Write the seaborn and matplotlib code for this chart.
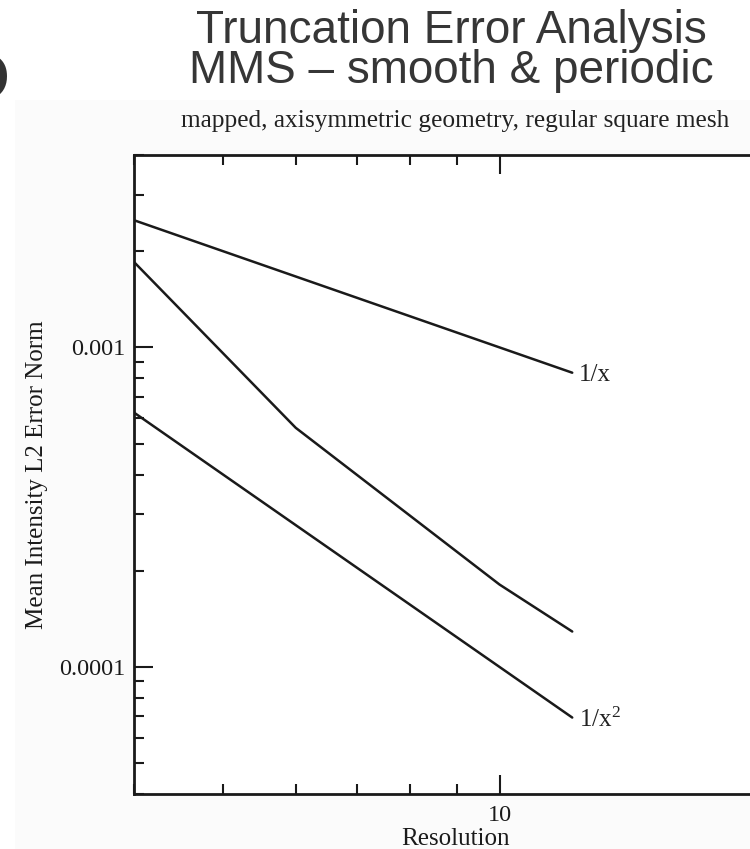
import matplotlib
matplotlib.use("Agg")
import matplotlib.pyplot as plt
import seaborn as sns
from matplotlib.ticker import NullFormatter
from matplotlib.patches import Rectangle

# --- Datos ---
resolution = [4, 6, 10, 12]
error_norm = [1.85e-3, 5.6e-4, 1.81e-4, 1.29e-4]

ref_x = [4, 12]
ref_first = [2.5e-3, 8.33e-4]    # 1/x
ref_second = [6.25e-4, 6.94e-5]  # 1/x^2

x_ticks = [10]
x_tick_labels = ["10"]
y_ticks = [1e-4, 1e-3]
y_tick_labels = ["0.0001", "0.001"]

title_lines = ["Truncation Error Analysis", "MMS \u2013 smooth & periodic"]
subtitle = "mapped, axisymmetric geometry, regular square mesh"
x_label = "Resolution"
y_label = "Mean Intensity L2 Error Norm"
ref_labels = ["1/x", "1/x$^{\\mathregular{2}}$"]

# --- Estilo ---
sns.set_theme(style="ticks")
plt.rcParams['font.family'] = ['Liberation Serif', 'DejaVu Serif']
plt.rcParams['mathtext.fontset'] = 'stix'

W, H = 750, 849
fig = plt.figure(figsize=(W / 100, H / 100), dpi=100)
fig.patch.set_facecolor('white')
# fondo gris muy claro de la diapositiva (detras de todo)
fig.patches.append(Rectangle((15 / W, 0), 1, (H - 100) / H, transform=fig.transFigure,
                             facecolor='#fbfbfb', edgecolor='none', zorder=-10))

# el eje se sale por la derecha (imagen recortada)
ax = fig.add_axes([134 / W, (H - 794) / H, 642 / W, 639 / H])
ax.set_facecolor('white')

sns.lineplot(x=ref_x, y=ref_first, color='k', lw=1.8, ax=ax, legend=False)
sns.lineplot(x=resolution, y=error_norm, color='k', lw=1.8, ax=ax, legend=False)
sns.lineplot(x=ref_x, y=ref_second, color='k', lw=1.8, ax=ax, legend=False)

ax.set_xscale('log'); ax.set_yscale('log')
ax.set_xlim(4, 20); ax.set_ylim(4e-5, 4e-3)

ax.set_xticks(x_ticks, x_tick_labels)
ax.set_yticks(y_ticks, y_tick_labels)
ax.xaxis.set_minor_formatter(NullFormatter())
ax.yaxis.set_minor_formatter(NullFormatter())

ax.tick_params(which='both', direction='in', top=True, right=True,
               width=1.5, color='k', labelcolor='k', labelsize=17.5)
ax.tick_params(which='major', length=14)
ax.tick_params(which='minor', length=7)
ax.tick_params(axis='y', pad=6)
ax.tick_params(axis='x', pad=8)
for s in ax.spines.values():
    s.set_linewidth(2); s.set_color('k')

ax.set_xlabel(x_label, fontsize=18, color='k')
ax.set_ylabel(y_label, fontsize=18, color='k')
ax.xaxis.label.set_va('baseline')
ax.xaxis.set_label_coords(0.5, -(845 - 794) / 639)
ax.yaxis.set_label_coords(-0.134, 0.5)

# etiquetas de las rectas de referencia
ax.annotate(ref_labels[0], xy=(ref_x[-1], ref_first[-1]), xytext=(5, -6),
            textcoords='offset points', va='baseline', ha='left', fontsize=18, color='#222')
ax.annotate(ref_labels[1], xy=(ref_x[-1], ref_second[-1]), xytext=(5, -7),
            textcoords='offset points', va='baseline', ha='left', fontsize=18, color='#222')

# --- Titulos ---
fig.text(451 / W, 1 - 43 / H, title_lines[0], ha='center', va='baseline',
         fontsize=33, family=['Liberation Sans'], color='#363636')
fig.text(451 / W, 1 - 83 / H, title_lines[1], ha='center', va='baseline',
         fontsize=33, family=['Liberation Sans'], color='#363636')
fig.text(455 / W, 1 - 127 / H, subtitle, ha='center', va='baseline',
         fontsize=18.3, color='#222')
# letra cortada en el borde izquierdo
fig.text(9 / W, 1 - 100 / H, "O", ha='right', va='baseline', fontsize=47,
         fontweight='bold', family=['Liberation Sans'], color='#333')

fig.savefig("out.png", dpi=100)
